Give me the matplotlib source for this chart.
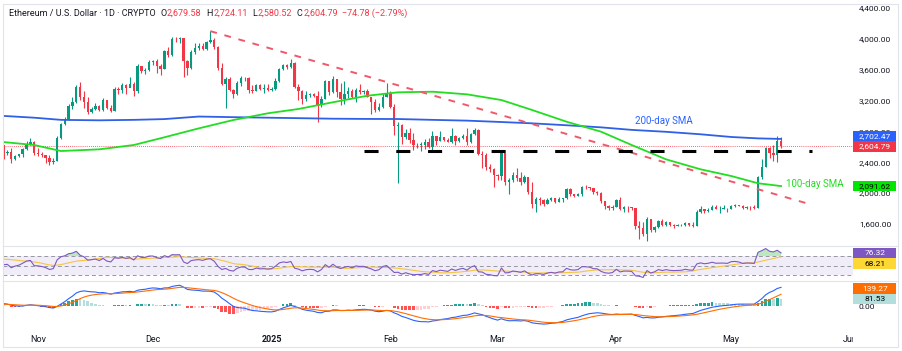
import numpy as np
import pandas as pd
import matplotlib
matplotlib.use("Agg")
import matplotlib.pyplot as plt
import matplotlib.dates as mdates
from matplotlib.patches import Rectangle
from matplotlib.lines import Line2D
from matplotlib.transforms import Bbox, TransformedBbox, blended_transform_factory

plt.rcParams['font.family'] = ['Roboto', 'DejaVu Sans']

# closes from Sep 20 to Oct 21 2024, only used to warm up RSI / MACD
warmup_closes = [2560, 2614, 2580, 2645, 2654, 2580, 2633, 2697, 2677, 2657, 2602,
                 2447, 2361, 2349, 2415, 2414, 2441, 2422, 2440, 2371, 2386, 2438,
                 2476, 2468, 2630, 2606, 2612, 2604, 2645, 2647, 2748, 2667]

start_date = "2024-10-22"
first_open = 2667

# daily candles Oct 22 2024 -> May 14 2025 (open = previous close)
closes = [
    # Oct 22-31
    2620, 2524, 2535, 2438, 2482, 2507, 2566, 2638, 2662, 2518,
    # Nov
    2512, 2493, 2459, 2400, 2420, 2720, 2895, 2962, 3126, 3183,
    3372, 3243, 3187, 3058, 3091, 3131, 3073, 3208, 3104, 3070,
    3356, 3331, 3396, 3361, 3414, 3324, 3654, 3584, 3592, 3703,
    # Dec
    3707, 3646, 3615, 3837, 3785, 4003, 3996, 4006, 3712, 3628,
    3836, 3880, 3906, 3872, 3958, 3986, 3889, 3626, 3418, 3476,
    3332, 3281, 3422, 3493, 3489, 3335, 3330, 3398, 3350, 3359, 3333,
    # Jan
    3353, 3451, 3604, 3656, 3635, 3686, 3380, 3327, 3218, 3267,
    3281, 3265, 3137, 3224, 3450, 3306, 3474, 3308, 3215, 3282,
    3324, 3241, 3339, 3310, 3318, 3246, 3181, 3077, 3113, 3250, 3300,
    # Feb
    3117, 2870, 2880, 2730, 2786, 2690, 2620, 2630, 2630, 2660,
    2602, 2735, 2676, 2725, 2692, 2664, 2742, 2673, 2717, 2740,
    2664, 2765, 2820, 2513, 2494, 2335, 2308, 2237,
    # Mar
    2218, 2518, 2150, 2170, 2240, 2200, 2140, 2203, 2020, 1865,
    1920, 1910, 1862, 1912, 1937, 1887, 1927, 1932, 2057, 1983,
    1966, 1983, 2086, 2082, 2068, 2010, 2002, 1896, 1827, 1805, 1822,
    # Apr
    1906, 1794, 1817, 1815, 1806, 1580, 1554, 1473, 1669, 1522,
    1566, 1643, 1592, 1623, 1588, 1578, 1583, 1587, 1613, 1587,
    1579, 1757, 1795, 1770, 1786, 1820, 1794, 1799, 1799, 1793,
    # May 1-14
    1838, 1843, 1833, 1808, 1817, 1815, 1810, 2207, 2345, 2583,
    2514, 2497, 2679.58, 2604.79,
]

highs = [
    2680, 2630, 2560, 2580, 2500, 2510, 2580, 2680, 2720, 2670,
    2590, 2530, 2500, 2490, 2450, 2740, 2910, 2985, 3150, 3250,
    3400, 3440, 3320, 3240, 3120, 3170, 3140, 3230, 3210, 3140,
    3370, 3380, 3430, 3420, 3500, 3440, 3680, 3650, 3620, 3720,
    3730, 3740, 3670, 3860, 3890, 4020, 4030, 4020, 4010, 3730,
    3850, 3940, 3940, 3940, 3970, 4107, 4010, 3910, 3690, 3500,
    3500, 3350, 3450, 3520, 3510, 3500, 3400, 3410, 3410, 3420, 3420,
    3370, 3490, 3620, 3670, 3670, 3745, 3700, 3410, 3340, 3320,
    3300, 3300, 3330, 3260, 3470, 3450, 3520, 3480, 3430, 3450,
    3370, 3350, 3360, 3420, 3340, 3350, 3250, 3220, 3170, 3280, 3430,
    3320, 3160, 2920, 2890, 2830, 2850, 2780, 2650, 2660, 2700,
    2720, 2800, 2740, 2800, 2730, 2710, 2850, 2760, 2730, 2770,
    2850, 2780, 2840, 2830, 2540, 2520, 2380, 2320,
    2250, 2550, 2520, 2200, 2270, 2320, 2280, 2230, 2210, 2150,
    1950, 1950, 1920, 1940, 1950, 1940, 1950, 1940, 2070, 2070,
    1990, 2000, 2090, 2100, 2080, 2070, 2030, 2010, 1900, 1840, 1850,
    1920, 1950, 1830, 1830, 1820, 1810, 1640, 1620, 1690, 1660,
    1580, 1650, 1660, 1640, 1630, 1600, 1600, 1600, 1620, 1615,
    1620, 1780, 1830, 1790, 1810, 1840, 1840, 1830, 1840, 1810,
    1850, 1860, 1850, 1840, 1830, 1830, 1840, 2220, 2440, 2600,
    2600, 2620, 2738, 2724.11,
]

lows = [
    2590, 2440, 2500, 2390, 2435, 2470, 2470, 2560, 2620, 2500,
    2480, 2470, 2390, 2360, 2380, 2420, 2700, 2880, 2950, 3090,
    3170, 3210, 3110, 3030, 3040, 3080, 3060, 3060, 3090, 3050,
    3060, 3290, 3300, 3280, 3370, 3260, 3300, 3560, 3540, 3580,
    3660, 3560, 3530, 3610, 3760, 3780, 3960, 3940, 3510, 3530,
    3610, 3810, 3850, 3850, 3860, 3940, 3870, 3590, 3400, 3100,
    3320, 3230, 3270, 3390, 3450, 3300, 3300, 3330, 3340, 3300, 3320,
    3320, 3340, 3440, 3600, 3610, 3620, 3360, 3210, 3160, 3190,
    3240, 3240, 2920, 3120, 3220, 3270, 3300, 3250, 3140, 3160,
    3230, 3230, 3180, 3280, 3280, 3240, 3020, 3050, 3060, 3110, 3240,
    3100, 2750, 2130, 2640, 2700, 2650, 2560, 2580, 2540, 2570,
    2580, 2550, 2630, 2670, 2680, 2660, 2650, 2620, 2660, 2700,
    2620, 2650, 2750, 2500, 2320, 2300, 2270, 2080,
    2170, 2170, 2100, 1990, 2150, 2160, 2100, 2130, 1990, 1810,
    1760, 1840, 1830, 1860, 1900, 1870, 1880, 1880, 1920, 1960,
    1950, 1960, 1960, 2060, 2040, 1990, 1980, 1870, 1800, 1780, 1780,
    1820, 1780, 1750, 1760, 1780, 1540, 1410, 1450, 1385, 1500,
    1500, 1550, 1580, 1580, 1570, 1550, 1570, 1570, 1580, 1570,
    1560, 1570, 1740, 1740, 1750, 1780, 1790, 1740, 1790, 1760,
    1790, 1820, 1830, 1800, 1800, 1780, 1800, 1810, 2180, 2340,
    2460, 2420, 2410, 2580.52,
]

# moving averages
sma_dates = ["2024-10-22", "2024-10-31", "2024-11-07", "2024-11-17", "2024-11-26",
             "2024-12-04", "2024-12-13", "2024-12-22", "2024-12-31", "2025-01-08",
             "2025-01-17", "2025-01-26", "2025-02-03", "2025-02-12", "2025-02-21",
             "2025-03-02", "2025-03-10", "2025-03-19", "2025-03-28", "2025-04-05",
             "2025-04-14", "2025-04-23", "2025-05-01", "2025-05-08", "2025-05-14"]
sma100 = [2667, 2624, 2546, 2568, 2624, 2724, 2840, 2948, 3035, 3091,
          3178, 3263, 3307, 3315, 3281, 3207, 3078, 2926, 2797, 2624,
          2438, 2309, 2222, 2128, 2091.62]
sma200 = [3004, 2978, 2950, 2944, 2950, 2960, 2993, 2985, 2978, 2972,
          2965, 2962, 2961, 2950, 2940, 2922, 2905, 2880, 2853, 2820,
          2795, 2763, 2728, 2710, 2702.47]

trend_dates = ["2024-12-16", "2025-05-22"]
trend_prices = [4100, 1850]
support_dates = ["2025-01-25", "2025-05-22"]
support_prices = [2550, 2550]

price_ticks = [1600, 2000, 2400, 2800, 3200, 3600, 4000, 4400]
month_ticks = ["2024-11-01", "2024-12-01", "2025-01-01", "2025-02-01",
               "2025-03-01", "2025-04-01", "2025-05-01", "2025-06-01"]
month_labels = ["Nov", "Dec", "2025", "Feb", "Mar", "Apr", "May", "Jun"]

header_ohlc = ["2,679.58", "2,724.11", "2,580.52", "2,604.79"]
header_change = "\u221274.78 (\u22122.79%)"
rsi_labels = [76.32, 68.21]
macd_labels = [139.27, 81.53]

UP, DOWN = "#089981", "#F23645"
BLUE, GREEN = "#2962FF", "#22DD22"
TXT = "#131722"

W, H = 903, 351
fig = plt.figure(figsize=(W / 100, H / 100), dpi=100)


def px_box(x0, y0, x1, y1):
    return [x0 / W, 1 - y1 / H, (x1 - x0) / W, (y1 - y0) / H]


ax = fig.add_axes(px_box(3, 4, 853, 245.7))
ax_rsi = fig.add_axes(px_box(3, 245.7, 853, 280.7), sharex=ax)
ax_macd = fig.add_axes(px_box(3, 280.7, 853, 327), sharex=ax)
for a in (ax, ax_rsi, ax_macd):
    for s in a.spines.values():
        s.set_visible(False)
    a.tick_params(bottom=False, labelbottom=False, left=False, labelleft=False)
    a.patch.set_alpha(0)

dates = pd.date_range(start_date, periods=len(closes), freq="D")
x = mdates.date2num(dates)
c = np.array(closes, dtype=float)
o = np.array([first_open] + closes[:-1], dtype=float)
col = np.where(c >= o, UP, DOWN)

# candles
ax.vlines(x, lows, highs, colors=col, lw=0.8, zorder=2)
ax.bar(x, np.maximum(np.abs(c - o), 4), bottom=np.minimum(o, c), width=0.62,
       color=col, zorder=3)

# moving averages and drawn lines
sx = mdates.date2num(pd.to_datetime(sma_dates))
ax.plot(sx, sma200, color="#3060E6", lw=1.3, zorder=4)
ax.plot(sx, sma100, color=GREEN, lw=1.3, zorder=4)
ax.plot(mdates.date2num(pd.to_datetime(trend_dates)), trend_prices,
        color="#EF5A6A", lw=1.4, dashes=(3.5, 4), zorder=5)
ax.plot(mdates.date2num(pd.to_datetime(support_dates)), support_prices,
        color="black", lw=2.2, dashes=(4.6, 5.8), zorder=5)
ax.axhline(closes[-1], color=DOWN, lw=0.6, ls=(0, (1, 1.5)), zorder=1)

ax.text(mdates.date2num(pd.Timestamp("2025-04-06")), 2940, "200-day SMA",
        color=BLUE, fontsize=7, va="center", ha="left")
ax.text(mdates.date2num(pd.Timestamp("2025-05-15")) + 0.2, 2115, "100-day SMA",
        color=GREEN, fontsize=7, va="center", ha="left")

nov1 = mdates.date2num(pd.Timestamp("2024-11-01"))
ax.set_xlim(nov1 - 35 / 3.83, nov1 + 815 / 3.83)
ax.set_ylim(1318.7, 4451.9)
ax.yaxis.tick_right()
ax.set_yticks(price_ticks)
ax.set_yticklabels([f"{p:,.2f}" for p in price_ticks])
ax.tick_params(axis="y", right=False, labelright=True, length=0, pad=4.3,
               labelsize=6, labelcolor=TXT)

# indicators
full = pd.Series(warmup_closes + closes, dtype=float)
n0 = len(warmup_closes)
delta = full.diff()
gain = delta.clip(lower=0).ewm(alpha=1 / 14, adjust=False).mean()
loss = (-delta.clip(upper=0)).ewm(alpha=1 / 14, adjust=False).mean()
rsi = 100 - 100 / (1 + gain / loss)
rsi_ma = rsi.rolling(14).mean()
ema12 = full.ewm(span=12, adjust=False).mean()
ema26 = full.ewm(span=26, adjust=False).mean()
macd = ema12 - ema26
signal = macd.ewm(span=9, adjust=False).mean()
hist = macd - signal

rsi_v = rsi.values[n0:]
rsi_ma_v = rsi_ma.values[n0:]
macd_v = macd.values[n0:]
sig_v = signal.values[n0:]
hist_all = hist.values
hist_v = hist_all[n0:]
hist_prev = hist_all[n0 - 1:-1]

ax_rsi.axhspan(30, 70, color="#7E57C2", alpha=0.1, lw=0)
for lvl in (70, 50, 30):
    ax_rsi.axhline(lvl, color="#9598A1", lw=0.7, dashes=(4, 3))
ax_rsi.fill_between(x, rsi_v, 70, where=rsi_v >= 70, interpolate=True,
                    color="#66CC77", alpha=0.45, lw=0)
ax_rsi.plot(x, rsi_ma_v, color="#F5C542", lw=0.8)
ax_rsi.plot(x, rsi_v, color="#7E57C2", lw=0.8)
ax_rsi.set_ylim(18, 91.7)

hcol = np.where(hist_v >= 0,
                np.where(hist_v >= hist_prev, "#26A69A", "#B2DFDB"),
                np.where(hist_v <= hist_prev, "#FF5252", "#FFCDD2"))
ax_macd.bar(x, hist_v, width=0.7, color=hcol, lw=0)
ax_macd.plot(x, macd_v, color=BLUE, lw=0.8)
ax_macd.plot(x, sig_v, color="#FF6D00", lw=0.8)
ax_macd.set_ylim(-249, 300)
ax_macd.yaxis.tick_right()
ax_macd.set_yticks([0])
ax_macd.set_yticklabels(["0.00"])
ax_macd.tick_params(axis="y", right=False, labelright=True, length=0, pad=4.3,
                    labelsize=6, labelcolor=TXT)

# month labels under the MACD pane
xt = blended_transform_factory(ax_macd.transData, fig.transFigure)
right_clip = TransformedBbox(Bbox([[0, 0], [853 / W, 1]]), fig.transFigure)
for d, lab in zip(month_ticks, month_labels):
    t = ax_macd.text(mdates.date2num(pd.Timestamp(d)), 1 - 339 / H, lab,
                     transform=xt, ha="center", va="center", fontsize=6.5,
                     color=TXT, fontweight="bold" if lab == "2025" else "normal")
    t.set_clip_on(True)
    t.set_clip_box(right_clip)

# header line
HFS = 6.5
hx = fig.text(9 / W, 1 - 13 / H, "Ethereum / U.S. Dollar \u00b7 1D \u00b7 CRYPTO",
              fontsize=HFS, color=TXT, va="center", ha="left")
prev = hx
for key, val in zip("OHLC", header_ohlc):
    k = ax.annotate(key, xy=(1, 0.5), xycoords=prev, xytext=(3.2, 0),
                    textcoords="offset points", fontsize=HFS, color=TXT,
                    va="center", ha="left", annotation_clip=False)
    prev = ax.annotate(val, xy=(1, 0.5), xycoords=k, xytext=(0.6, 0),
                       textcoords="offset points", fontsize=HFS, color=DOWN,
                       va="center", ha="left", annotation_clip=False)
ax.annotate(header_change, xy=(1, 0.5), xycoords=prev, xytext=(3.2, 0),
            textcoords="offset points", fontsize=HFS, color=DOWN,
            va="center", ha="left", annotation_clip=False)

# frame and pane separators
fig.patches.append(Rectangle((3 / W, 1 - 347 / H), 895 / W, 343 / H,
                             transform=fig.transFigure, fill=False,
                             ec="#E0E3EB", lw=0.8))
for yy in (245.7, 280.7):
    fig.add_artist(Line2D([3 / W, 898 / W], [1 - yy / H] * 2, color="#E0E3EB", lw=0.8))

fig.canvas.draw()


def badges(axis, items):
    # items: (value, text, bg, fg) in priority order; later ones get pushed away
    placed = []
    for val, txt, bg, fg in items:
        y = axis.transData.transform((0, val))[1]
        for py in placed:
            if abs(y - py) < 10.5:
                y = py + 10.5 if y >= py else py - 10.5
        placed.append(y)
        yf = y / H
        fig.patches.append(Rectangle((853.5 / W, yf - 5.2 / H), 43 / W, 10.4 / H,
                                     transform=fig.transFigure, fc=bg, ec="none",
                                     zorder=5))
        fig.text(875 / W, yf, txt, ha="center", va="center", color=fg,
                 fontsize=6, zorder=6)


badges(ax, [(closes[-1], f"{closes[-1]:,.2f}", DOWN, "white"),
            (sma200[-1], f"{sma200[-1]:,.2f}", BLUE, "white"),
            (sma100[-1], f"{sma100[-1]:,.2f}", "#00E600", "black")])
badges(ax_rsi, [(rsi_labels[0], f"{rsi_labels[0]:.2f}", "#7E57C2", "white"),
                (rsi_labels[1], f"{rsi_labels[1]:.2f}", "#FDD835", "black")])
badges(ax_macd, [(macd_labels[1], f"{macd_labels[1]:.2f}", "#B2DFDB", "black"),
                 (macd_labels[0], f"{macd_labels[0]:.2f}", "#FF6D00", "white")])

fig.savefig("out.png", dpi=100, facecolor="white")
